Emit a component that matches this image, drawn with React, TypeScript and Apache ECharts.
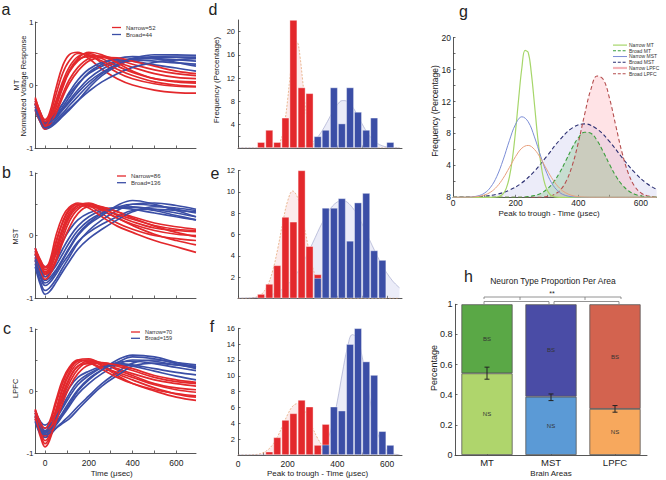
import { useEffect, useRef } from 'react';
import * as echarts from 'echarts';

const FONT = '"Liberation Sans", Arial, Helvetica, sans-serif';
const RED = '#e3282c';
const BLUE = '#3b4ea6';
const TXT = '#222';
const AXC = '#444';

// ---------- panels a-c : waveforms ----------
const WAVE_T = [-45, -20, 0, 20, 50, 80, 110, 150, 200, 260, 330, 400, 500, 600, 690];

const MT_NARROW_WAVES = [
  [-0.2, -0.45, -0.55, -0.45, -0.05, 0.3, 0.48, 0.52, 0.42, 0.25, 0.1, 0.0, -0.08, -0.12, -0.13],
  [-0.25, -0.5, -0.6, -0.5, -0.15, 0.18, 0.38, 0.5, 0.48, 0.35, 0.2, 0.1, 0.02, -0.02, -0.03],
  [-0.3, -0.52, -0.62, -0.55, -0.25, 0.05, 0.28, 0.45, 0.5, 0.42, 0.3, 0.2, 0.1, 0.05, 0.03],
  [-0.35, -0.55, -0.66, -0.6, -0.35, -0.05, 0.2, 0.38, 0.47, 0.45, 0.36, 0.28, 0.18, 0.12, 0.1],
  [-0.3, -0.5, -0.62, -0.58, -0.4, -0.15, 0.08, 0.28, 0.42, 0.46, 0.4, 0.33, 0.24, 0.18, 0.15],
  [-0.4, -0.6, -0.7, -0.64, -0.45, -0.2, 0.02, 0.22, 0.38, 0.44, 0.43, 0.38, 0.3, 0.22, 0.18],
  [-0.22, -0.45, -0.58, -0.52, -0.28, 0.0, 0.22, 0.4, 0.45, 0.38, 0.25, 0.15, 0.05, 0.0, -0.02],
  [-0.28, -0.5, -0.64, -0.56, -0.3, -0.02, 0.22, 0.42, 0.52, 0.48, 0.35, 0.22, 0.1, 0.06, 0.05],
];
const MT_BROAD_WAVES = [
  [-0.25, -0.45, -0.58, -0.55, -0.45, -0.3, -0.15, 0.02, 0.18, 0.3, 0.38, 0.4, 0.38, 0.35, 0.33],
  [-0.3, -0.5, -0.62, -0.6, -0.5, -0.38, -0.25, -0.08, 0.1, 0.25, 0.36, 0.42, 0.42, 0.4, 0.38],
  [-0.35, -0.55, -0.66, -0.64, -0.55, -0.45, -0.33, -0.18, 0.0, 0.18, 0.32, 0.4, 0.44, 0.44, 0.43],
  [-0.4, -0.6, -0.7, -0.68, -0.6, -0.5, -0.4, -0.25, -0.05, 0.15, 0.3, 0.4, 0.45, 0.46, 0.46],
  [-0.3, -0.5, -0.6, -0.58, -0.48, -0.35, -0.2, 0.0, 0.2, 0.33, 0.42, 0.45, 0.42, 0.36, 0.3],
  [-0.28, -0.48, -0.6, -0.57, -0.45, -0.3, -0.12, 0.08, 0.25, 0.36, 0.4, 0.38, 0.32, 0.27, 0.22],
  [-0.38, -0.58, -0.68, -0.66, -0.58, -0.48, -0.38, -0.25, -0.1, 0.05, 0.18, 0.28, 0.36, 0.4, 0.42],
  [-0.32, -0.52, -0.63, -0.6, -0.52, -0.4, -0.28, -0.12, 0.05, 0.2, 0.33, 0.42, 0.48, 0.48, 0.47],
];
const MST_NARROW_WAVES = [
  [-0.2, -0.4, -0.5, -0.42, 0.0, 0.3, 0.45, 0.52, 0.48, 0.35, 0.2, 0.1, 0.0, -0.05, -0.08],
  [-0.25, -0.45, -0.55, -0.48, -0.12, 0.2, 0.4, 0.5, 0.5, 0.4, 0.28, 0.18, 0.08, 0.02, 0.0],
  [-0.3, -0.5, -0.6, -0.55, -0.25, 0.08, 0.32, 0.48, 0.52, 0.44, 0.32, 0.22, 0.12, 0.08, 0.06],
  [-0.35, -0.55, -0.66, -0.6, -0.38, -0.05, 0.22, 0.42, 0.5, 0.46, 0.38, 0.3, 0.2, 0.14, 0.1],
  [-0.3, -0.52, -0.62, -0.56, -0.3, 0.02, 0.28, 0.45, 0.48, 0.4, 0.28, 0.16, 0.02, -0.08, -0.15],
  [-0.4, -0.6, -0.7, -0.64, -0.42, -0.12, 0.12, 0.35, 0.46, 0.45, 0.38, 0.28, 0.15, 0.05, -0.02],
  [-0.22, -0.42, -0.52, -0.46, -0.1, 0.22, 0.42, 0.5, 0.44, 0.3, 0.15, 0.05, -0.08, -0.18, -0.27],
  [-0.28, -0.48, -0.58, -0.52, -0.2, 0.12, 0.36, 0.48, 0.5, 0.42, 0.34, 0.26, 0.16, 0.1, 0.08],
];
const MST_BROAD_WAVES = [
  [-0.2, -0.42, -0.5, -0.46, -0.3, -0.1, 0.08, 0.25, 0.36, 0.42, 0.44, 0.42, 0.36, 0.3, 0.25],
  [-0.25, -0.5, -0.62, -0.58, -0.42, -0.22, -0.04, 0.15, 0.3, 0.4, 0.45, 0.46, 0.42, 0.36, 0.3],
  [-0.35, -0.6, -0.72, -0.68, -0.55, -0.38, -0.2, 0.02, 0.2, 0.35, 0.45, 0.5, 0.48, 0.42, 0.36],
  [-0.45, -0.75, -0.88, -0.84, -0.7, -0.52, -0.35, -0.12, 0.08, 0.25, 0.4, 0.5, 0.52, 0.48, 0.42],
  [-0.4, -0.68, -0.8, -0.76, -0.62, -0.45, -0.3, -0.1, 0.05, 0.18, 0.3, 0.4, 0.42, 0.4, 0.38],
  [-0.3, -0.55, -0.66, -0.62, -0.48, -0.3, -0.12, 0.08, 0.24, 0.36, 0.44, 0.45, 0.4, 0.32, 0.25],
  [-0.5, -0.8, -0.94, -0.9, -0.75, -0.58, -0.42, -0.22, -0.05, 0.1, 0.25, 0.38, 0.46, 0.44, 0.4],
  [-0.38, -0.65, -0.76, -0.72, -0.58, -0.4, -0.22, 0.0, 0.18, 0.32, 0.48, 0.56, 0.5, 0.4, 0.3],
];
const LPFC_NARROW_WAVES = [
  [-0.3, -0.55, -0.65, -0.55, -0.2, 0.12, 0.35, 0.5, 0.52, 0.42, 0.28, 0.18, 0.05, -0.05, -0.1],
  [-0.35, -0.62, -0.75, -0.65, -0.32, 0.02, 0.26, 0.45, 0.5, 0.45, 0.34, 0.25, 0.12, 0.05, 0.02],
  [-0.45, -0.75, -0.9, -0.8, -0.45, -0.1, 0.18, 0.4, 0.48, 0.44, 0.36, 0.28, 0.18, 0.12, 0.08],
  [-0.32, -0.58, -0.68, -0.6, -0.3, 0.05, 0.3, 0.48, 0.5, 0.4, 0.25, 0.12, 0.0, -0.1, -0.15],
  [-0.4, -0.66, -0.8, -0.72, -0.42, -0.12, 0.12, 0.35, 0.46, 0.46, 0.4, 0.33, 0.22, 0.15, 0.12],
  [-0.35, -0.6, -0.72, -0.64, -0.36, -0.05, 0.2, 0.4, 0.44, 0.38, 0.3, 0.22, 0.1, 0.02, -0.02],
  [-0.3, -0.52, -0.6, -0.5, -0.15, 0.18, 0.38, 0.5, 0.46, 0.35, 0.22, 0.12, 0.02, -0.04, -0.08],
  [-0.42, -0.7, -0.85, -0.76, -0.5, -0.2, 0.05, 0.28, 0.42, 0.45, 0.42, 0.36, 0.25, 0.18, 0.14],
];
const LPFC_BROAD_WAVES = [
  [-0.32, -0.5, -0.55, -0.5, -0.35, -0.15, 0.05, 0.22, 0.32, 0.4, 0.44, 0.42, 0.36, 0.3, 0.26],
  [-0.38, -0.58, -0.64, -0.6, -0.45, -0.28, -0.1, 0.1, 0.25, 0.38, 0.46, 0.48, 0.44, 0.38, 0.33],
  [-0.45, -0.65, -0.72, -0.68, -0.55, -0.4, -0.25, -0.05, 0.12, 0.28, 0.42, 0.5, 0.48, 0.42, 0.38],
  [-0.5, -0.7, -0.75, -0.72, -0.6, -0.5, -0.4, -0.25, -0.08, 0.12, 0.3, 0.45, 0.5, 0.46, 0.42],
  [-0.4, -0.6, -0.66, -0.62, -0.5, -0.35, -0.18, 0.02, 0.2, 0.34, 0.46, 0.55, 0.52, 0.44, 0.36],
  [-0.35, -0.55, -0.6, -0.56, -0.42, -0.24, -0.05, 0.15, 0.28, 0.38, 0.42, 0.4, 0.32, 0.24, 0.18],
  [-0.48, -0.66, -0.7, -0.68, -0.6, -0.52, -0.45, -0.3, -0.12, 0.08, 0.25, 0.4, 0.45, 0.42, 0.4],
  [-0.42, -0.62, -0.68, -0.64, -0.52, -0.38, -0.22, 0.0, 0.18, 0.34, 0.5, 0.58, 0.55, 0.46, 0.38],
];

// ---------- panels d-f : histograms ----------
const BIN_CENTERS = [93, 126, 158, 191, 223, 256, 288, 321, 353, 386, 418, 451, 483, 516, 548, 581, 613];
const MT_NARROW_HIST = [1.0, 3.1, 1.0, 5.2, 22, 10.4, 9.4, 0, 0, 0, 0, 0, 0, 0, 0, 0, 0];
const MT_BROAD_HIST = [0, 0, 0, 0, 0, 0, 0, 2.0, 3.1, 10.4, 4.2, 10.4, 6.2, 3.1, 5.2, 0, 1.0];
const MST_NARROW_HIST = [0.4, 1.35, 3.1, 7.65, 7.2, 12.1, 4.9, 2.25, 0, 0, 0, 0, 0, 0, 0, 0, 0];
const MST_BROAD_HIST = [0, 0, 0, 0, 0, 0, 0, 1.9, 8.5, 8.5, 9.4, 5.4, 9.0, 9.9, 4.5, 3.6, 0];
const LPFC_NARROW_HIST = [0, 0.42, 2.23, 4.42, 5.26, 6.95, 6.1, 1.26, 3.9, 0, 0, 0, 0, 0, 0, 0, 0];
const LPFC_BROAD_HIST = [0, 0, 0, 0, 0, 0, 0, 0, 1.3, 6.1, 5.6, 14.0, 16.0, 11.8, 10.1, 3.0, 1.26];

// ---------- fitted distributions (panels d-g) ----------
const GAUSS_NARROW_MT = [[0, 0], [120, 0], [140, 0.04], [150, 0.15], [160, 0.44], [170, 1.12], [180, 2.52], [190, 4.93], [200, 8.42], [210, 12.53], [220, 16.26], [230, 18.4], [240, 18.15], [250, 15.6], [260, 11.7], [270, 7.65], [280, 4.36], [290, 2.16], [300, 0.94], [310, 0.35], [320, 0.12], [330, 0.03], [350, 0], [650, 0]];
const GAUSS_BROAD_MT = [[0, 0], [220, 0], [240, 0.09], [260, 0.22], [280, 0.49], [300, 1.01], [320, 1.85], [340, 3.06], [360, 4.57], [380, 6.15], [400, 7.46], [420, 8.15], [440, 8.02], [460, 7.12], [480, 5.69], [500, 4.1], [520, 2.66], [540, 1.56], [560, 0.82], [580, 0.39], [600, 0.17], [620, 0.06], [640, 0.02], [650, 0.01]];
const GAUSS_NARROW_MST = [[0, 0], [40, 0.01], [60, 0.05], [80, 0.18], [100, 0.51], [120, 1.26], [140, 2.63], [160, 4.68], [180, 7.1], [200, 9.17], [220, 10.09], [240, 9.47], [260, 7.57], [280, 5.15], [300, 2.99], [320, 1.48], [340, 0.62], [360, 0.22], [380, 0.07], [400, 0.02], [420, 0], [650, 0]];
const GAUSS_BROAD_MST = [[0, 0.01], [20, 0.02], [60, 0.05], [100, 0.14], [140, 0.38], [180, 0.89], [220, 1.82], [260, 3.28], [300, 5.18], [340, 7.15], [380, 8.67], [420, 9.2], [460, 8.55], [500, 6.97], [540, 4.97], [580, 3.11], [620, 1.7], [650, 0.99]];
const GAUSS_NARROW_LPFC = [[0, 0], [40, 0.01], [60, 0.03], [80, 0.1], [100, 0.28], [120, 0.65], [140, 1.33], [160, 2.38], [180, 3.73], [200, 5.12], [220, 6.16], [240, 6.5], [260, 6.0], [280, 4.86], [300, 3.44], [320, 2.14], [340, 1.16], [360, 0.56], [380, 0.23], [400, 0.08], [420, 0.03], [440, 0], [650, 0]];
const GAUSS_BROAD_LPFC = [[0, 0], [280, 0], [300, 0.09], [320, 0.3], [340, 0.81], [360, 1.92], [380, 3.9], [400, 6.84], [420, 10.35], [440, 13.5], [460, 15.2], [480, 14.76], [500, 12.36], [520, 8.92], [540, 5.56], [560, 2.99], [580, 1.38], [600, 0.55], [620, 0.19], [640, 0.06], [650, 0.03]];

// ---------- panel h ----------
const AREAS = ['MT', 'MST', 'LPFC'];
const NS_PROP = [0.542, 0.387, 0.306];
const BS_PROP = [0.458, 0.613, 0.694];
const NS_ERR = [[0.503, 0.583], [0.361, 0.405], [0.284, 0.328]];
const NS_COLORS = ['#afd56c', '#5b9ad6', '#f7a85d'];
const BS_COLORS = ['#5aa846', '#4a4ca6', '#d3634f'];

const TIME_TICKS = [0, 100, 200, 300, 400, 500, 600];
const TIME_LABELS = [0, 200, 400, 600];

const G_NAMES = ['Narrow MT', 'Broad MT', 'Narrow MST', 'Broad MST', 'Narrow LPFC', 'Broad LPFC'];
const G_LEGEND_STYLE: [string, number, boolean][] = [
  ['#a6d66a', 1.2, false], ['#3a9e3c', 1.1, true], ['#7b8dd6', 1, false],
  ['#2b2f72', 1.1, true], ['#f4b4b8', 2.2, false], ['#b54e4e', 1.1, true],
];

function valueAxis(gi: number, min: number, max: number, ticks: number[], labels: number[], o: any = {}) {
  return {
    type: 'value', gridIndex: gi, min, max,
    axisLine: { show: true, onZero: false, lineStyle: { color: AXC, width: 0.9 } },
    axisTick: { show: true, inside: true, length: 2.5, customValues: ticks, lineStyle: { color: AXC, width: 0.8 } },
    axisLabel: {
      show: labels.length > 0, customValues: labels, fontSize: o.fontSize ?? 8, color: TXT,
      fontFamily: FONT, margin: o.margin ?? 3, formatter: o.formatter,
    },
    splitLine: { show: false },
  };
}

function vtext(x: number, y: number, text: string, size: number, rot = 0) {
  return {
    type: 'text', x, y, rotation: rot, silent: true,
    style: {
      text, fontSize: size, fontFamily: FONT, fill: TXT,
      align: 'center', verticalAlign: 'middle', textAlign: 'center', textVerticalAlign: 'middle',
    },
  };
}
function gline(x1: number, y1: number, x2: number, y2: number, stroke = '#777', lineWidth = 0.8, lineDash?: number[]) {
  return { type: 'line', silent: true, shape: { x1, y1, x2, y2 }, style: { stroke, lineWidth, lineDash } };
}

function buildOption() {
  const series: any[] = [];
  const waveSet = (red: number[][], blue: number[][], rn: string, bn: string, gi: number) => {
    const n = Math.max(red.length, blue.length);
    for (let i = 0; i < n; i++) {
      [[blue[i], bn, BLUE], [red[i], rn, RED]].forEach(([w, name, color]: any) => {
        if (!w) return;
        series.push({
          type: 'line', name, xAxisIndex: gi, yAxisIndex: gi, silent: true,
          data: w.map((v: number, k: number) => [WAVE_T[k], v]),
          smooth: 0.4, symbol: 'none', showSymbol: false,
          lineStyle: { color, width: 1.7 }, itemStyle: { color },
          emphasis: { disabled: true },
        });
      });
    }
  };
  waveSet(MT_NARROW_WAVES, MT_BROAD_WAVES, 'Narrow=52', 'Broad=44', 0);
  waveSet(MST_NARROW_WAVES, MST_BROAD_WAVES, 'Narrow=86', 'Broad=136', 1);
  waveSet(LPFC_NARROW_WAVES, LPFC_BROAD_WAVES, 'Narrow=70', 'Broad=159', 2);

  const histSet = (nh: number[], bh: number[], gn: number[][], gb: number[][], gi: number, tag: string) => {
    series.push({
      type: 'line', name: tag + ' narrow fit', xAxisIndex: gi, yAxisIndex: gi, silent: true, z: 1,
      data: gn, smooth: 0.4, symbol: 'none',
      lineStyle: { color: '#e2a06a', width: 0.7, type: [2, 1.5] },
      areaStyle: { color: 'rgba(240,165,165,0.32)' },
    });
    series.push({
      type: 'line', name: tag + ' broad fit', xAxisIndex: gi, yAxisIndex: gi, silent: true, z: 1,
      data: gb, smooth: 0.4, symbol: 'none',
      lineStyle: { color: '#9aa0c8', width: 0.6 },
      areaStyle: { color: 'rgba(165,170,222,0.32)' },
    });
    [[nh, RED], [bh, BLUE]].forEach(([h, color]: any, j) => {
      series.push({
        type: 'bar', name: tag + (j ? ' broad' : ' narrow'), xAxisIndex: gi, yAxisIndex: gi, silent: true, z: 3,
        data: BIN_CENTERS.map((x, i) => [x, h[i]]).filter((d) => d[1] > 0),
        barWidth: 7.6, barGap: '-100%',
        itemStyle: { color, borderColor: 'rgba(255,255,255,0.65)', borderWidth: 0.6 },
      });
    });
  };
  histSet(MT_NARROW_HIST, MT_BROAD_HIST, GAUSS_NARROW_MT, GAUSS_BROAD_MT, 3, 'MT');
  histSet(MST_NARROW_HIST, MST_BROAD_HIST, GAUSS_NARROW_MST, GAUSS_BROAD_MST, 4, 'MST');
  histSet(LPFC_NARROW_HIST, LPFC_BROAD_HIST, GAUSS_NARROW_LPFC, GAUSS_BROAD_LPFC, 5, 'LPFC');

  const gl = (name: string, data: number[][], color: string, dashed: boolean, fill: string | null, width = 1.1) => ({
    type: 'line', name, xAxisIndex: 6, yAxisIndex: 6, silent: true, data, smooth: 0.4, symbol: 'none',
    lineStyle: { color, width, type: dashed ? [4, 2.5] : 'solid' }, itemStyle: { color },
    areaStyle: fill ? { color: fill } : undefined,
  });
  series.push(gl('Broad MST', GAUSS_BROAD_MST, '#2b2f72', true, 'rgba(170,170,230,0.32)'));
  series.push(gl('Broad LPFC', GAUSS_BROAD_LPFC, '#b54e4e', true, 'rgba(255,150,160,0.38)'));
  series.push(gl('Broad MT', GAUSS_BROAD_MT, '#3a9e3c', true, 'rgba(70,175,70,0.32)'));
  series.push(gl('Narrow MT', GAUSS_NARROW_MT, '#a6d66a', false, null, 1.2));
  series.push(gl('Narrow MST', GAUSS_NARROW_MST, '#7b8dd6', false, null, 1));
  series.push(gl('Narrow LPFC', GAUSS_NARROW_LPFC, '#e8a07e', false, null, 1));

  const segLabel = (t: string) => ({ show: true, position: 'inside', formatter: t, fontSize: 6, color: '#333', fontFamily: FONT });
  series.push({
    type: 'bar', name: 'NS', stack: 'h', xAxisIndex: 7, yAxisIndex: 7, barWidth: '80%', silent: true,
    data: NS_PROP.map((v, i) => ({ value: v, itemStyle: { color: NS_COLORS[i] } })),
    itemStyle: { borderColor: '#555', borderWidth: 0.8 }, label: segLabel('NS'),
  });
  series.push({
    type: 'bar', name: 'BS', stack: 'h', xAxisIndex: 7, yAxisIndex: 7, barWidth: '80%', silent: true,
    data: BS_PROP.map((v, i) => ({ value: v, itemStyle: { color: BS_COLORS[i] } })),
    itemStyle: { borderColor: '#555', borderWidth: 0.8 }, label: segLabel('BS'),
  });
  series.push({
    type: 'custom', name: 'err', xAxisIndex: 7, yAxisIndex: 7, silent: true, z: 10,
    data: NS_ERR.map((e, i) => [i, e[0], e[1]]),
    encode: { x: 0, y: [1, 2] },
    renderItem: (_p: any, api: any) => {
      const lo = api.coord([api.value(0), api.value(1)]);
      const hi = api.coord([api.value(0), api.value(2)]);
      const w = 2.5;
      const st = { stroke: '#222', lineWidth: 1 };
      return {
        type: 'group', children: [
          { type: 'line', shape: { x1: lo[0], y1: lo[1], x2: hi[0], y2: hi[1] }, style: st },
          { type: 'line', shape: { x1: lo[0] - w, y1: lo[1], x2: lo[0] + w, y2: lo[1] }, style: st },
          { type: 'line', shape: { x1: hi[0] - w, y1: hi[1], x2: hi[0] + w, y2: hi[1] }, style: st },
        ],
      };
    },
  });

  const grid = [
    { left: 35, top: 22, width: 161, height: 126 },
    { left: 35, top: 173, width: 161, height: 125 },
    { left: 35, top: 329, width: 161, height: 124 },
    { left: 238, top: 20, width: 164, height: 128 },
    { left: 238, top: 170.7, width: 164, height: 127.6 },
    { left: 238, top: 328.3, width: 164, height: 126.7 },
    { left: 453, top: 37.7, width: 203.6, height: 159.6 },
    { left: 455, top: 304.3, width: 192, height: 150.7 },
  ].map((g) => ({ ...g, containLabel: false, outerBoundsMode: 'none' }));

  const xAxis: any[] = [
    valueAxis(0, -46, 690, TIME_TICKS, []),
    valueAxis(1, -46, 690, TIME_TICKS, []),
    valueAxis(2, -46, 690, TIME_TICKS, TIME_LABELS, { fontSize: 8.5, margin: 5 }),
    valueAxis(3, 0, 660, TIME_TICKS, []),
    valueAxis(4, 0, 660, TIME_TICKS, []),
    valueAxis(5, 0, 660, TIME_TICKS, TIME_LABELS, { fontSize: 8.5, margin: 4 }),
    valueAxis(6, 0, 650, TIME_TICKS, TIME_LABELS, { fontSize: 8.5, margin: 1.5 }),
    {
      type: 'category', gridIndex: 7, data: AREAS,
      axisLine: { show: true, lineStyle: { color: AXC, width: 0.9 } },
      axisTick: { show: true, inside: true, alignWithLabel: true, length: 2.5, lineStyle: { color: AXC } },
      axisLabel: { fontSize: 9.5, color: TXT, fontFamily: FONT, margin: 2.5 },
    },
  ];
  const yAxis: any[] = [
    valueAxis(0, -1, 1, [-1, -0.5, 0, 0.5, 1], [-1, 0, 1], { margin: 1.5 }),
    valueAxis(1, -1, 1, [-1, -0.5, 0, 0.5, 1], [-1, 0, 1], { margin: 1.5 }),
    valueAxis(2, -1, 1, [-1, -0.5, 0, 0.5, 1], [-1, 0, 1], { margin: 1.5 }),
    valueAxis(3, 0, 22, [2, 4, 6, 8, 10, 12, 14, 16, 18, 20], [4, 8, 12, 16, 20], { fontSize: 7.5 }),
    valueAxis(4, 0, 12, [2, 4, 6, 8, 10, 12], [2, 4, 6, 8, 10, 12], { fontSize: 7.5 }),
    valueAxis(5, 0, 16, [2, 4, 6, 8, 10, 12, 14, 16], [2, 4, 6, 8, 10, 12, 14, 16], { fontSize: 7.5 }),
    valueAxis(6, 0, 20, [0, 2, 4, 6, 8, 10, 12, 14, 16, 18, 20], [0, 4, 8, 12, 16, 20],
      { fontSize: 8.5, margin: 2, formatter: (v: number) => (v === 0 ? '8' : String(v)) }),
    valueAxis(7, 0, 1, [0, 0.2, 0.4, 0.6, 0.8, 1], [0, 0.2, 0.4, 0.6, 0.8, 1], { fontSize: 9, margin: 2.5 }),
  ];

  const lg = (data: string[], left: number, top: number, fs: number, iw: number, gap: number, ih: number, icon: string) => ({
    data: data.map((name) => ({ name, icon })), left, top, orient: 'vertical', itemWidth: iw, itemHeight: ih, itemGap: gap, padding: 0,
    selectedMode: false, textStyle: { fontSize: fs, color: '#333', fontFamily: FONT },
  });
  const legend = [
    lg(['Narrow=52', 'Broad=44'], 112, 24.5, 6, 9, 1, 1.3, 'rect'),
    lg(['Narrow=86', 'Broad=136'], 117, 173, 6, 9, 0.7, 1.3, 'rect'),
    lg(['Narrow=70', 'Broad=159'], 131, 329, 5.5, 9, 0.3, 1.3, 'rect'),
    lg(G_NAMES, 612, 42.5, 5, 12, 0.7, 5, 'none'),
  ];

  // line samples for the panel-g legend (dashed styles)
  const gLegendLines = G_LEGEND_STYLE.map(([c, w, d], i) =>
    gline(613, 45.1 + i * 5.72, 627, 45.1 + i * 5.72, c, w, d ? [3, 1.8] : undefined));

  const graphic = [
    vtext(6, 9, 'a', 16), vtext(6.5, 172.7, 'b', 16), vtext(7, 328, 'c', 16),
    vtext(213, 9.3, 'd', 16), vtext(215, 173, 'e', 16), vtext(212, 326.7, 'f', 16),
    vtext(463.5, 11, 'g', 16), vtext(468.5, 276, 'h', 16),
    vtext(16.5, 85, 'MT', 7.5, Math.PI / 2),
    vtext(23, 86, 'Normalized Voltage Response', 7.5, Math.PI / 2),
    vtext(15, 236.7, 'MST', 7.5, Math.PI / 2),
    vtext(15, 388.3, 'LPFC', 7.5, Math.PI / 2),
    vtext(111.7, 473, 'Time (μsec)', 8),
    vtext(216.7, 80, 'Frequency (Percentage)', 8, Math.PI / 2),
    vtext(317.5, 473, 'Peak to trough - Time (μsec)', 8),
    vtext(435, 111, 'Frequency (Percentage)', 8.5, Math.PI / 2),
    vtext(549, 213, 'Peak to trough - Time (μsec)', 8),
    vtext(553, 281, 'Neuron Type Proportion Per Area', 8.5),
    vtext(434, 368, 'Percentage', 9, Math.PI / 2),
    vtext(551, 473, 'Brain Areas', 8),
    vtext(552, 293.5, '**', 7),
    gline(484, 297, 621, 297), gline(520, 297, 520, 300), gline(585, 297, 585, 300),
    gline(484, 297, 484, 299),
    gline(621, 297, 621, 299),
    gline(484, 301.5, 549, 301.5), gline(554, 301.5, 619, 301.5),
    gline(484, 301.5, 484, 304), gline(549, 301.5, 549, 304),
    gline(554, 301.5, 554, 304), gline(619, 301.5, 619, 304),
    ...gLegendLines,
  ];

  return {
    animation: false,
    backgroundColor: '#ffffff',
    textStyle: { fontFamily: FONT },
    grid, xAxis, yAxis, legend, series, graphic,
  };
}

export default function App() {
  const ref = useRef<HTMLDivElement>(null);
  useEffect(() => {
    if (!ref.current) return;
    const chart = echarts.init(ref.current, undefined, { renderer: 'svg' });
    chart.setOption(buildOption() as any);
    return () => chart.dispose();
  }, []);
  return <div ref={ref} style={{ position: 'fixed', left: 0, top: 0, width: 666, height: 480 }} />;
}
